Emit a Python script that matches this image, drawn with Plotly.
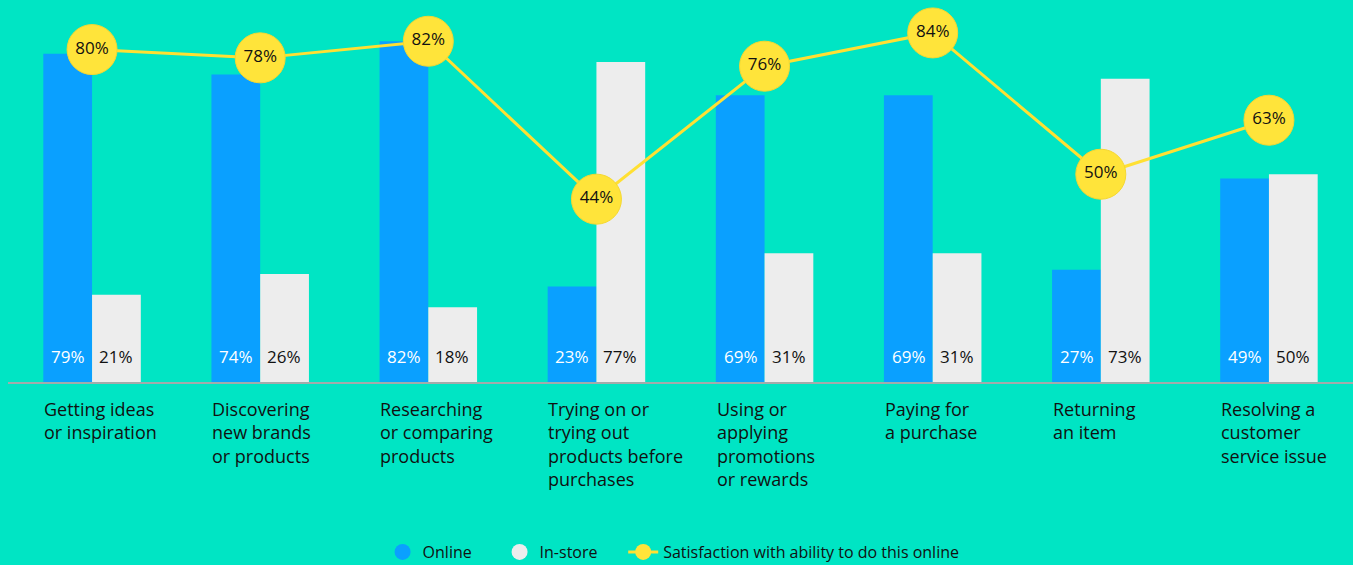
import plotly.graph_objects as go

categories = [
    "Getting ideas<br>or inspiration",
    "Discovering<br>new brands<br>or products",
    "Researching<br>or comparing<br>products",
    "Trying on or<br>trying out<br>products before<br>purchases",
    "Using or<br>applying<br>promotions<br>or rewards",
    "Paying for<br>a purchase",
    "Returning<br>an item",
    "Resolving a<br>customer<br>service issue",
]
online = [79, 74, 82, 23, 69, 69, 27, 49]
instore = [21, 26, 18, 77, 31, 31, 73, 50]
satisfaction = [80, 78, 82, 44, 76, 84, 50, 63]

BG = "#00E5C4"
BLUE = "#0AA0FF"
GRAY = "#EDEDED"
YELLOW = "#FFE43A"
LINE_Y = "#FFE033"
FONT = "Open Sans"

xs = list(range(len(categories)))

fig = go.Figure()
fig.add_trace(go.Bar(x=xs, y=online, marker=dict(color=BLUE, line=dict(width=0)),
                     showlegend=False, name="Online"))
fig.add_trace(go.Bar(x=xs, y=instore, marker=dict(color=GRAY, line=dict(width=0)),
                     showlegend=False, name="In-store"))
fig.add_trace(go.Scatter(
    x=xs, y=satisfaction, mode="lines+markers+text",
    line=dict(color=LINE_Y, width=3),
    marker=dict(size=50, color=YELLOW, line=dict(color="#F5D830", width=1)),
    text=[f"{v}%" for v in satisfaction], textposition="middle center",
    textfont=dict(family=FONT, size=17, color="#111111"),
    cliponaxis=False, showlegend=False,
))
# legend-only entries
fig.add_trace(go.Scatter(x=[None], y=[None], mode="markers", name="Online",
                         marker=dict(size=16, color=BLUE), legend="legend"))
fig.add_trace(go.Scatter(x=[None], y=[None], mode="markers", name="In-store",
                         marker=dict(size=16, color=GRAY), legend="legend"))
fig.add_trace(go.Scatter(x=[None], y=[None], mode="lines+markers",
                         name="Satisfaction with ability to do this online",
                         line=dict(color=LINE_Y, width=3),
                         marker=dict(size=16, color=YELLOW), legend="legend2"))

annotations = []
for i, (c, o, s) in enumerate(zip(categories, online, instore)):
    annotations.append(dict(x=i, xref="x", y=0, yref="y", text=f"{o}%",
                            xanchor="center", yanchor="bottom", xshift=-24, yshift=12,
                            showarrow=False, font=dict(family=FONT, size=17, color="white")))
    annotations.append(dict(x=i, xref="x", y=0, yref="y", text=f"{s}%",
                            xanchor="center", yanchor="bottom", xshift=24, yshift=12,
                            showarrow=False, font=dict(family=FONT, size=17, color="#111111")))
    annotations.append(dict(x=i, xref="x", y=0, yref="paper", text=c, align="left",
                            xanchor="left", yanchor="top", xshift=-50, yshift=-13,
                            showarrow=False, font=dict(family=FONT, size=18, color="#111111")))
fig.update_layout(annotations=annotations)

legend_font = dict(family=FONT, size=16, color="#111111")
fig.update_layout(
    width=1353, height=565,
    paper_bgcolor=BG, plot_bgcolor=BG,
    margin=dict(l=8, r=0, t=8, b=183, autoexpand=False),
    barmode="group", bargap=0.42, bargroupgap=0,
    font=dict(family=FONT, color="#111111"),
    xaxis=dict(range=[-0.5, 7.5], showticklabels=False, showgrid=False, zeroline=False,
               showline=True, linecolor="#A3ABAB", linewidth=2, fixedrange=True),
    yaxis=dict(range=[0, 90], showticklabels=False, showgrid=False, zeroline=False,
               fixedrange=True),
    legend=dict(orientation="h", x=0.2785, xanchor="left", y=-0.4545, yanchor="middle",
                entrywidth=72, entrywidthmode="pixels",
                font=legend_font, bgcolor="rgba(0,0,0,0)"),
    legend2=dict(orientation="h", x=0.4574, xanchor="left", y=-0.4545, yanchor="middle",
                 font=legend_font, bgcolor="rgba(0,0,0,0)"),
)

fig.write_html("out.html", config={"displayModeBar": False},
               post_script="document.body.style.margin='0';document.body.style.background='" + BG + "';")
